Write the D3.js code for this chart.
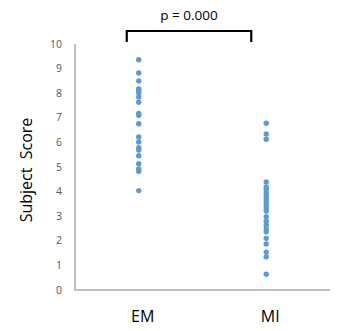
<!DOCTYPE html>
<html>
<head>
<meta charset="utf-8">
<script src="https://cdn.jsdelivr.net/npm/d3@7"></script>
<style>
  body { margin: 0; background: #fff; }
  svg text { font-family: "Open Sans", Lato, sans-serif; }
</style>
</head>
<body>
<svg id="chart" width="342" height="331"></svg>
<script>
// Groups and their individual subject scores
const categories = ["EM", "MI"];
const emScores = [9.36, 8.82, 8.50, 8.17, 8.10, 8.02, 7.85, 7.63, 7.18, 7.10, 6.76,
                  6.22, 6.02, 5.78, 5.69, 5.46, 5.13, 4.92, 4.83, 4.04];
const miScores = [6.78, 6.34, 6.13, 4.39, 4.19, 4.07, 3.94, 3.82, 3.70, 3.58, 3.46,
                  3.33, 3.21, 2.98, 2.80, 2.64, 2.48, 2.37, 2.10, 1.87, 1.54, 1.35, 0.64];
const yTicks = [0, 1, 2, 3, 4, 5, 6, 7, 8, 9, 10];
const pLabel = "p = 0.000";
const yTitle = "Subject  Score";

const svg = d3.select("#chart");

const x = d3.scalePoint().domain(categories).range([75, 330]).padding(0.5);
const y = d3.scaleLinear().domain([0, 10]).range([290, 44]);

// Axes lines
const axisColor = "#bfbfbf";
svg.append("line").attr("x1", x.range()[0]).attr("x2", x.range()[0])
  .attr("y1", y(10)).attr("y2", y(0) + 1)
  .attr("stroke", axisColor).attr("stroke-width", 2);
svg.append("line").attr("x1", x.range()[0] - 1).attr("x2", x.range()[1])
  .attr("y1", y(0)).attr("y2", y(0))
  .attr("stroke", axisColor).attr("stroke-width", 2);

// Y tick labels
svg.append("g").selectAll("text").data(yTicks).join("text")
  .attr("x", 62).attr("y", d => y(d)).attr("dy", "0.35em")
  .attr("text-anchor", "end").attr("font-size", 10.5).attr("fill", "#595959")
  .text(d => d);

// Category labels
svg.append("g").selectAll("text").data(categories).join("text")
  .attr("x", d => x(d) + 4).attr("y", 322)
  .attr("text-anchor", "middle").attr("font-size", 16).attr("fill", "#000")
  .text(d => d);

// Y axis title
svg.append("text")
  .attr("transform", `translate(32,${y(5) + 3}) rotate(-90)`)
  .attr("text-anchor", "middle").attr("font-size", 16).attr("fill", "#000")
  .style("white-space", "pre")
  .text(yTitle);

// Points
const series = [
  { cat: "EM", values: emScores },
  { cat: "MI", values: miScores }
];
series.forEach(s => {
  svg.append("g").selectAll("circle").data(s.values).join("circle")
    .attr("cx", x(s.cat)).attr("cy", d => y(d)).attr("r", 2.7)
    .attr("fill", "#5b9bd5");
});

// Significance bracket
const bx1 = x("EM") - 12, bx2 = x("MI") - 15;
svg.append("path")
  .attr("d", `M${bx1},42 V31 H${bx2} V42`)
  .attr("fill", "none").attr("stroke", "#000").attr("stroke-width", 2.2);
svg.append("text")
  .attr("x", (bx1 + bx2) / 2).attr("y", 20)
  .attr("text-anchor", "middle").attr("font-size", 13.5).attr("fill", "#000")
  .style("white-space", "pre")
  .text(pLabel);
</script>
</body>
</html>
